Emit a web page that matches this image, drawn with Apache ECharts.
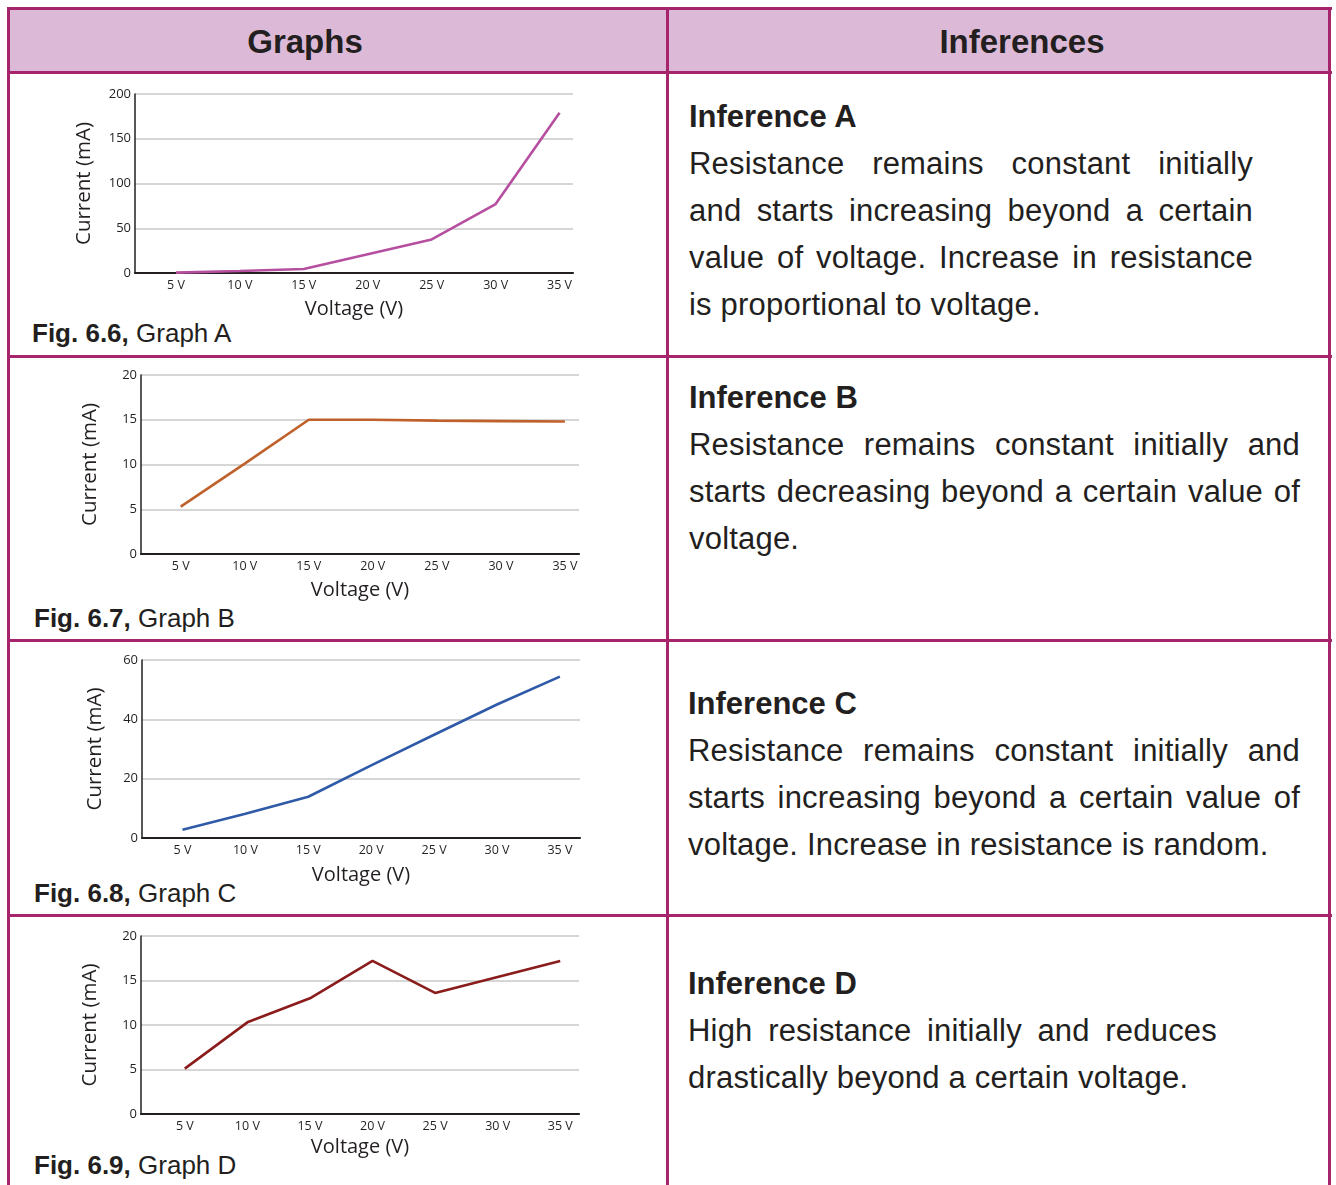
<!DOCTYPE html>
<html>
<head>
<meta charset="utf-8">
<script src="https://cdn.jsdelivr.net/npm/echarts@6/dist/echarts.min.js"></script>
<style>
  html, body { margin: 0; padding: 0; background: #ffffff; }
  body { width: 1336px; height: 1185px; position: relative; overflow: hidden; font-family: "Liberation Sans", Arial, sans-serif; color: #231f20; }
  .ln { position: absolute; background: #a5246b; }
  .hdr { position: absolute; background: #dcbad7; }
  .htxt { position: absolute; font-weight: bold; font-size: 33px; transform: translate(-50%, -50%); white-space: nowrap; }
  .cap { position: absolute; font-size: 26px; white-space: nowrap; transform: translateY(-50%); }
  .cap b { font-weight: bold; }
  .inf { position: absolute; font-size: 31px; letter-spacing: 0.2px; }
  .inf div { height: 47px; line-height: 47px; white-space: nowrap; overflow: visible; }
  .inf .h { font-weight: bold; font-size: 31px; letter-spacing: 0; }
  .inf .j { text-align: justify; text-align-last: justify; white-space: normal; }
  #chart { position: absolute; left: 0; top: 0; width: 1336px; height: 1185px; }
</style>
</head>
<body>
<div class="hdr" style="left:8px;top:8px;width:1322px;height:65px;"></div>
<div class="ln" style="left:7px;top:7px;width:1325px;height:3px;"></div>
<div class="ln" style="left:7px;top:71px;width:1325px;height:3px;"></div>
<div class="ln" style="left:7px;top:355px;width:1325px;height:3px;"></div>
<div class="ln" style="left:7px;top:639px;width:1325px;height:3px;"></div>
<div class="ln" style="left:7px;top:914px;width:1325px;height:3px;"></div>
<div class="ln" style="left:7px;top:7px;width:3px;height:1178px;"></div>
<div class="ln" style="left:666px;top:7px;width:3px;height:1178px;"></div>
<div class="ln" style="left:1328px;top:7px;width:3px;height:1178px;"></div>

<div class="htxt" style="left:305px;top:42px;">Graphs</div>
<div class="htxt" style="left:1022px;top:42px;">Inferences</div>

<div class="cap" style="left:32px;top:333px;"><b>Fig. 6.6,</b> Graph A</div>
<div class="cap" style="left:34px;top:618px;"><b>Fig. 6.7,</b> Graph B</div>
<div class="cap" style="left:34px;top:893px;"><b>Fig. 6.8,</b> Graph C</div>
<div class="cap" style="left:34px;top:1165px;"><b>Fig. 6.9,</b> Graph D</div>

<div class="inf" style="left:689px;top:93px;width:564px;">
  <div class="h">Inference A</div>
  <div class="j">Resistance remains constant initially</div>
  <div class="j">and starts increasing beyond a certain</div>
  <div class="j">value of voltage. Increase in resistance</div>
  <div>is proportional to voltage.</div>
</div>
<div class="inf" style="left:689px;top:374px;width:611px;">
  <div class="h">Inference B</div>
  <div class="j">Resistance remains constant initially and</div>
  <div class="j">starts decreasing beyond a certain value of</div>
  <div>voltage.</div>
</div>
<div class="inf" style="left:688px;top:680px;width:612px;">
  <div class="h">Inference C</div>
  <div class="j">Resistance remains constant initially and</div>
  <div class="j">starts increasing beyond a certain value of</div>
  <div>voltage. Increase in resistance is random.</div>
</div>
<div class="inf" style="left:688px;top:960px;width:529px;">
  <div class="h">Inference D</div>
  <div class="j">High resistance initially and reduces</div>
  <div>drastically beyond a certain voltage.</div>
</div>

<div id="chart"></div>
<script>
// ---- data ----
const voltages = [5, 10, 15, 20, 25, 30, 35];
const currentA = [0.4, 2.2, 4.5, 21, 37.5, 77, 179];
const currentB = [5.3, 10.1, 15, 15, 14.9, 14.85, 14.8];
const currentC = [2.8, 8.2, 13.9, 24.5, 34.8, 45, 54.4];
const currentD = [5.1, 10.3, 13.0, 17.2, 13.6, 15.4, 17.2];
const yTicksA = [0, 50, 100, 150, 200];
const yTicksB = [0, 5, 10, 15, 20];
const yTicksC = [0, 20, 40, 60];
const yTicksD = [0, 5, 10, 15, 20];
const xTitle = 'Voltage (V)';
const yTitle = 'Current (mA)';

const ink = '#231f20';
const axisFont = '"Open Sans", "Noto Sans", sans-serif';

const panels = [
  { cur: currentA, ticks: yTicksA, color: '#b64f9f', grid: { left: 135, top: 94, width: 438, height: 179 }, xmin: 1.8, xmax: 36.05, yGap: 40, xGap: 26 },
  { cur: currentB, ticks: yTicksB, color: '#c0612b', grid: { left: 141, top: 375, width: 438, height: 179 }, xmin: 1.9, xmax: 36.1, yGap: 40, xGap: 26 },
  { cur: currentC, ticks: yTicksC, color: '#2f5aa8', grid: { left: 142, top: 660, width: 438, height: 178 }, xmin: 1.78, xmax: 36.6, yGap: 36, xGap: 27 },
  { cur: currentD, ticks: yTicksD, color: '#8b1c1c', grid: { left: 141, top: 936, width: 438, height: 178 }, xmin: 1.5, xmax: 36.5, yGap: 40, xGap: 23 }
];

const option = {
  animation: false,
  backgroundColor: 'transparent',
  grid: panels.map(p => Object.assign({ containLabel: false }, p.grid)),
  xAxis: panels.map((p, i) => ({
    type: 'value', gridIndex: i, min: p.xmin, max: p.xmax,
    name: xTitle, nameLocation: 'middle', nameGap: p.xGap,
    nameTextStyle: { fontFamily: axisFont, fontSize: 20, color: ink },
    axisLine: { show: true, lineStyle: { color: ink, width: 2.2 } },
    axisTick: { show: false },
    splitLine: { show: false },
    axisLabel: {
      customValues: voltages,
      formatter: v => v + ' V',
      fontFamily: axisFont, fontSize: 12.5, color: ink, margin: 6
    }
  })),
  yAxis: panels.map((p, i) => ({
    type: 'value', gridIndex: i, min: p.ticks[0], max: p.ticks[p.ticks.length - 1],
    interval: p.ticks[1] - p.ticks[0],
    name: yTitle, nameLocation: 'middle', nameGap: p.yGap, nameRotate: 90,
    nameTextStyle: { fontFamily: axisFont, fontSize: 20.5, color: ink },
    axisLine: { show: true, lineStyle: { color: ink, width: 1.5 } },
    axisTick: { show: false },
    splitLine: { show: true, lineStyle: { color: '#c8c8c8', width: 1.5 } },
    axisLabel: { fontFamily: axisFont, fontSize: 13, color: ink, margin: 4 }
  })),
  series: panels.map((p, i) => ({
    type: 'line', xAxisIndex: i, yAxisIndex: i,
    data: voltages.map((v, k) => [v, p.cur[k]]),
    symbol: 'none',
    lineStyle: { color: p.color, width: 2.6 },
    z: 5
  }))
};

const chart = echarts.init(document.getElementById('chart'), null, { renderer: 'canvas' });
chart.setOption(option);
</script>
</body>
</html>
